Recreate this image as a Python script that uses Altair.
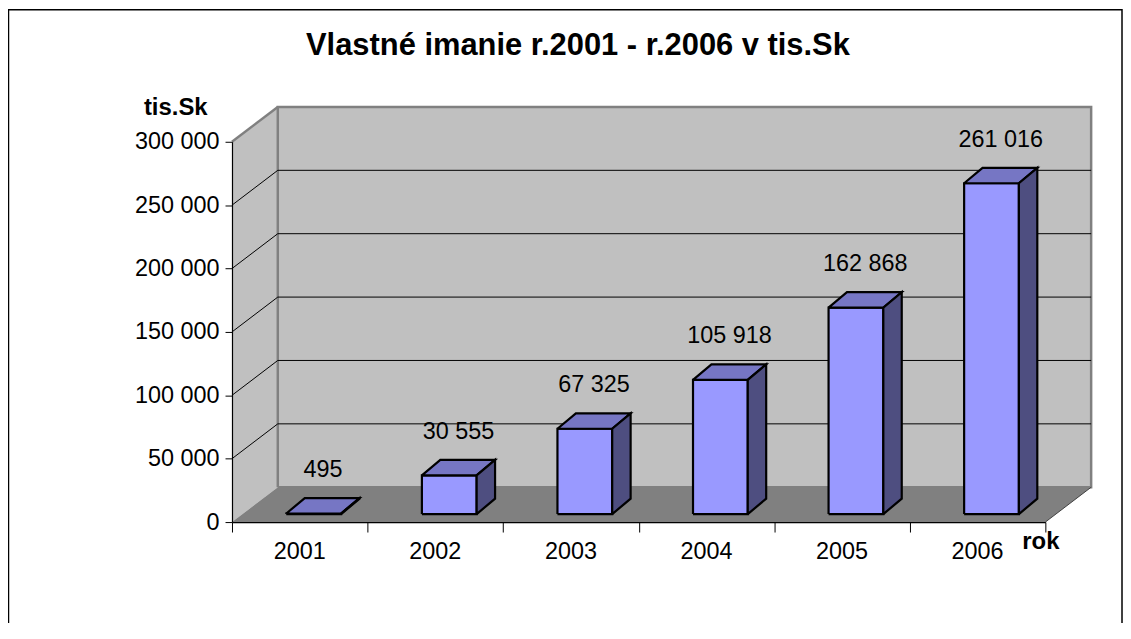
import altair as alt
import pandas as pd

# ---- data ----
years = ["2001", "2002", "2003", "2004", "2005", "2006"]
values = [495, 30555, 67325, 105918, 162868, 261016]
y_ticks = [0, 50000, 100000, 150000, 200000, 250000, 300000]
title_text = "Vlastné imanie r.2001 - r.2006 v tis.Sk"
y_title = "tis.Sk"
x_title = "rok"

# ---- geometry / style constants ----
FONT = "Liberation Sans"
W, H = 817, 382
N = len(years)
YMAX = y_ticks[-1]
sx = W / N          # px per category
sy = H / YMAX       # px per value unit
DEPTH_X, DEPTH_Y = 46, 35        # px, oblique depth of the box
ddx = DEPTH_X / sx
ddy = DEPTH_Y / sy
# bar front / back face offsets in px (dx, dy)
BF = (14.0 / sx, 8.0 / sy)
BB = (32.5 / sx, 23.5 / sy)
HALF = 27.5 / sx                 # half bar width in category units

COL_FRONT = "#9999ff"
COL_TOP = "#7676c4"
COL_SIDE = "#4e4e80"
COL_WALL = "#c0c0c0"
COL_FLOOR = "#808080"


def poly(rows, pid, face, pts):
    for k, (x, y) in enumerate(pts):
        rows.append({"pid": pid, "face": face, "k": k, "x": x, "y": y})


# walls & floor
side_rows, back_rows, floor_rows = [], [], []
poly(side_rows, "side", "wall", [(0, 0), (0, YMAX), (ddx, YMAX + ddy), (ddx, ddy), (0, 0)])
poly(back_rows, "back", "wall", [(ddx, ddy), (ddx, YMAX + ddy), (N + ddx, YMAX + ddy), (N + ddx, ddy), (ddx, ddy)])
poly(floor_rows, "floor", "floor", [(0, 0), (N, 0), (N + ddx, ddy), (ddx, ddy), (0, 0)])

# gridlines (side wall diagonal + back wall horizontal)
grid_rows = []
for t in y_ticks[1:-1]:
    poly(grid_rows, f"g{t}", "grid", [(0, t), (ddx, t + ddy), (N + ddx, t + ddy)])

edge_rows = []
poly(edge_rows, "sidetop", "edge", [(0, YMAX), (ddx, YMAX + ddy)])
floor_edge_rows = []
poly(floor_edge_rows, "flooredge", "edge", [(N, 0), (N + ddx, ddy)])

# bars
bar_rows = []
bx = BB[0] - BF[0]
by = BB[1] - BF[1]
for i, v in enumerate(values):
    cx = i + 0.5
    x0 = cx - HALF + BF[0]
    x1 = cx + HALF + BF[0]
    yb = BF[1]
    yt = v + BF[1]
    poly(bar_rows, f"f{i}", "front", [(x0, yb), (x1, yb), (x1, yt), (x0, yt), (x0, yb)])
    poly(bar_rows, f"t{i}", "top", [(x0, yt), (x1, yt), (x1 + bx, yt + by), (x0 + bx, yt + by), (x0, yt)])
    poly(bar_rows, f"s{i}", "side", [(x1, yb), (x1 + bx, yb + by), (x1 + bx, yt + by), (x1, yt), (x1, yb)])

labels_df = pd.DataFrame({
    "x": [i + 0.5 + (BF[0] + BB[0]) / 2 for i in range(N)],
    "y": [v + (BF[1] + BB[1]) / 2 for v in values],
    "label": [f"{v:,}".replace(",", " ") for v in values],
})
years_df = pd.DataFrame({"x": [i + 0.5 for i in range(N)], "y": [0] * N, "year": years})

xscale = alt.Scale(domain=[0, N], nice=False, zero=False)
yscale = alt.Scale(domain=[0, YMAX], nice=False, zero=False)

X = alt.X("x:Q", scale=xscale, axis=alt.Axis(
    values=list(range(N + 1)), labels=False, grid=False, ticks=True, tickSize=10,
    tickColor="black", domainColor="black", tickWidth=1, domainWidth=1.2, zindex=1,
    title=x_title, titleFont=FONT, titleFontSize=24, titleFontWeight="bold",
    titleColor="black", titleX=812, titleY=20, titleAlign="center", titleBaseline="middle",
))
Y = alt.Y("y:Q", scale=yscale, axis=alt.Axis(
    values=y_ticks, grid=False, tickSize=7, tickColor="black", domainColor="black",
    domainWidth=1.2, zindex=1, labelFont=FONT, labelFontSize=23.5, labelColor="black",
    labelPadding=6, labelExpr="replace(format(datum.value, ','), ',', ' ')",
    title=y_title, titleFont=FONT, titleFontSize=24, titleFontWeight="bold",
    titleColor="black", titleAngle=0, titleX=-57, titleY=-34, titleAlign="center",
    titleBaseline="middle",
))

side = alt.Chart(pd.DataFrame(side_rows)).mark_line(
    filled=True, color=COL_WALL, strokeWidth=0
).encode(x=X, y=Y, order="k:Q", detail="pid:N")

back = alt.Chart(pd.DataFrame(back_rows)).mark_line(
    filled=True, fill=COL_WALL, stroke="#808080", strokeWidth=2.5
).encode(x=X, y=Y, order="k:Q", detail="pid:N")

floor = alt.Chart(pd.DataFrame(floor_rows)).mark_line(
    filled=True, color=COL_FLOOR, strokeWidth=0
).encode(x=X, y=Y, order="k:Q", detail="pid:N")

grid = alt.Chart(pd.DataFrame(grid_rows)).mark_line(
    color="black", strokeWidth=1
).encode(x=X, y=Y, order="k:Q", detail="pid:N")

side_edge = alt.Chart(pd.DataFrame(edge_rows)).mark_line(
    color="#808080", strokeWidth=2.5
).encode(x=X, y=Y, order="k:Q", detail="pid:N")

floor_edge = alt.Chart(pd.DataFrame(floor_edge_rows)).mark_line(
    color="#404040", strokeWidth=1
).encode(x=X, y=Y, order="k:Q", detail="pid:N")

bars = alt.Chart(pd.DataFrame(bar_rows)).mark_line(
    filled=True, stroke="black", strokeWidth=2.2, strokeJoin="miter"
).encode(
    x=X, y=Y, order="k:Q", detail="pid:N",
    color=alt.Color("face:N", scale=alt.Scale(domain=["front", "top", "side"],
                                              range=[COL_FRONT, COL_TOP, COL_SIDE]), legend=None),
)

value_labels = alt.Chart(labels_df).mark_text(
    font=FONT, fontSize=23.5, color="black", dy=-36, baseline="middle", align="center"
).encode(x=X, y=Y, text="label:N")

year_labels = alt.Chart(years_df).mark_text(
    font=FONT, fontSize=23.5, color="black", dy=30, baseline="middle", align="center"
).encode(x=X, y=Y, text="year:N")

frame = alt.Chart(pd.DataFrame({"a": [0]})).mark_rect(
    filled=False, stroke="black", strokeWidth=1.5
).encode(x=alt.value(-224.5), x2=alt.value(894), y=alt.value(-132.5), y2=alt.value(H + 300))

chart = alt.layer(
    side, back, floor, grid, side_edge, floor_edge, bars, value_labels, year_labels, frame
).properties(
    width=W, height=H,
    title=alt.Title(title_text, font=FONT, fontSize=31, fontWeight="bold", color="black",
                    anchor="middle", frame="group", dx=-61, offset=0, dy=53),
    autosize=alt.AutoSizeParams(type="none"),
    padding={"left": 225, "top": 133, "right": 78, "bottom": 100},
).configure_view(stroke=None).configure(background="white")

chart.save("out.html", embed_options={"renderer": "svg", "actions": False})
